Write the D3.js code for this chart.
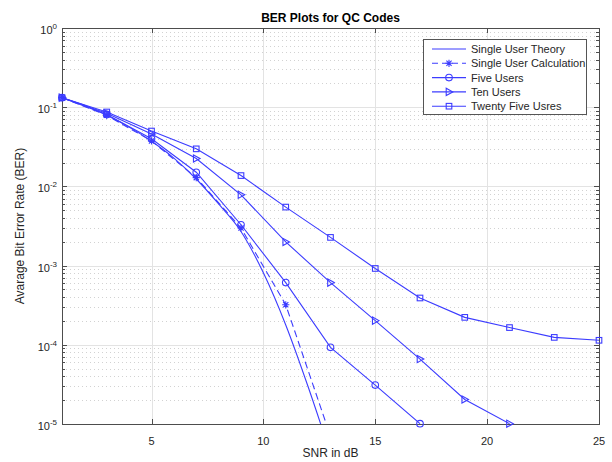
<!DOCTYPE html>
<html>
<head>
<meta charset="utf-8">
<script src="https://cdn.jsdelivr.net/npm/d3@7"></script>
<style>
  body { margin: 0; background: #fff; }
  svg { display: block; font-family: "Liberation Sans", Arial, Helvetica, sans-serif; }
</style>
</head>
<body>
<div id="chart"></div>
<script>
// chart data
const snrTheory = [1, 2, 3, 4, 5, 6, 7, 8, 9, 10, 11, 12, 13]
const berTheory = [0.132, 0.106, 0.079, 0.056, 0.0372, 0.0228, 0.0124, 0.0060, 0.0027, 0.00081, 0.000178, 0.0000295, 0.0000042]

const snrCalc = [1, 3, 5, 7, 9, 11, 13]
const berCalc = [0.132, 0.079, 0.0375, 0.0129, 0.00298, 0.00032, 0.000007]

const snrFive = [1, 3, 5, 7, 9, 11, 13, 15, 17]
const berFive = [0.132, 0.081, 0.040, 0.0151, 0.00328, 0.00061, 0.000093, 0.000031, 0.0000101]

const snrTen = [1, 3, 5, 7, 9, 11, 13, 15, 17, 19, 21]
const berTen = [0.132, 0.084, 0.046, 0.0225, 0.00783, 0.00199, 0.00061, 0.000202, 0.000066, 0.0000204, 0.0000101]

const snrTwentyFive = [1, 3, 5, 7, 9, 11, 13, 15, 17, 19, 21, 23, 25]
const berTwentyFive = [0.132, 0.087, 0.050, 0.0298, 0.0137, 0.00548, 0.00227, 0.00092, 0.00039, 0.000222, 0.000165, 0.000124, 0.000114]

const legendNames = ["Single User Theory", "Single User Calculation", "Five Users", "Ten Users", "Twenty Five Usres"]
const xTicks = [5, 10, 15, 20, 25]
const yDecades = [-5, -4, -3, -2, -1, 0]

const width = 612
const height = 462
const plotL = 62, plotR = 599, plotT = 28, plotB = 424
const lineColor = "#3c3cff"
const axisColor = "#4d4d4d"
const textColor = "#262626"

const series = [
  {name: legendNames[0], x: snrTheory, y: berTheory, marker: null, dash: null},
  {name: legendNames[1], x: snrCalc, y: berCalc, marker: "star", dash: "7,4"},
  {name: legendNames[2], x: snrFive, y: berFive, marker: "circle", dash: null},
  {name: legendNames[3], x: snrTen, y: berTen, marker: "triangle", dash: null},
  {name: legendNames[4], x: snrTwentyFive, y: berTwentyFive, marker: "square", dash: null}
]

const x = d3.scaleLinear().domain([1, 25]).range([plotL, plotR])
const y = d3.scaleLog().domain([1e-5, 1]).range([plotB, plotT])

const svg = d3.select("#chart").append("svg")
  .attr("width", width)
  .attr("height", height)

svg.append("rect").attr("width", width).attr("height", height).attr("fill", "#fff")

svg.append("defs").append("clipPath").attr("id", "plotclip")
  .append("rect")
  .attr("x", plotL).attr("y", plotT)
  .attr("width", plotR - plotL).attr("height", plotB - plotT)

// minor grid (y only, dotted)
const minorVals = []
yDecades.slice(0, -1).forEach(e => {
  for (let k = 2; k <= 9; k++) minorVals.push(k * Math.pow(10, e))
})
svg.append("g").selectAll("line")
  .data(minorVals)
  .enter().append("line")
  .attr("x1", plotL).attr("x2", plotR)
  .attr("y1", d => Math.round(y(d)) + 0.5).attr("y2", d => Math.round(y(d)) + 0.5)
  .attr("stroke", "#d2d2d2")
  .attr("stroke-dasharray", "1,3")

// major grid
svg.append("g").selectAll("line")
  .data(yDecades.slice(1, -1))
  .enter().append("line")
  .attr("x1", plotL).attr("x2", plotR)
  .attr("y1", d => Math.round(y(Math.pow(10, d))) + 0.5)
  .attr("y2", d => Math.round(y(Math.pow(10, d))) + 0.5)
  .attr("stroke", "#e3e3e3")
svg.append("g").selectAll("line")
  .data(xTicks.slice(0, -1))
  .enter().append("line")
  .attr("x1", d => Math.round(x(d)) + 0.5).attr("x2", d => Math.round(x(d)) + 0.5)
  .attr("y1", plotT).attr("y2", plotB)
  .attr("stroke", "#e3e3e3")

// box
svg.append("rect")
  .attr("x", plotL + 0.5).attr("y", plotT + 0.5)
  .attr("width", plotR - plotL).attr("height", plotB - plotT)
  .attr("fill", "none")
  .attr("stroke", axisColor)

// ticks inside the box
const ticks = svg.append("g").attr("stroke", axisColor)
xTicks.forEach(t => {
  const px = Math.round(x(t)) + 0.5
  ticks.append("line").attr("x1", px).attr("x2", px).attr("y1", plotB).attr("y2", plotB - 5)
  ticks.append("line").attr("x1", px).attr("x2", px).attr("y1", plotT).attr("y2", plotT + 5)
})
yDecades.forEach(e => {
  const py = Math.round(y(Math.pow(10, e))) + 0.5
  ticks.append("line").attr("x1", plotL).attr("x2", plotL + 5).attr("y1", py).attr("y2", py)
  ticks.append("line").attr("x1", plotR).attr("x2", plotR - 5).attr("y1", py).attr("y2", py)
})
minorVals.forEach(v => {
  const py = Math.round(y(v)) + 0.5
  ticks.append("line").attr("x1", plotL).attr("x2", plotL + 3).attr("y1", py).attr("y2", py)
  ticks.append("line").attr("x1", plotR).attr("x2", plotR - 3).attr("y1", py).attr("y2", py)
})

// tick labels
svg.append("g").selectAll("text")
  .data(xTicks)
  .enter().append("text")
  .attr("x", d => x(d))
  .attr("y", plotB + 21)
  .attr("text-anchor", "middle")
  .attr("font-size", 11)
  .attr("fill", textColor)
  .text(d => d)

const yl = svg.append("g").selectAll("text")
  .data(yDecades)
  .enter().append("text")
  .attr("x", plotL - 5)
  .attr("y", d => y(Math.pow(10, d)) + 6)
  .attr("text-anchor", "end")
  .attr("font-size", 11)
  .attr("fill", textColor)
yl.append("tspan").text("10")
yl.append("tspan").attr("dy", -5).attr("font-size", 8).text(d => d)

// titles
svg.append("text")
  .attr("x", (plotL + plotR) / 2).attr("y", 22)
  .attr("text-anchor", "middle")
  .attr("font-size", 12).attr("font-weight", "bold")
  .attr("fill", "#000")
  .text("BER Plots for QC Codes")
svg.append("text")
  .attr("x", (plotL + plotR) / 2).attr("y", 457)
  .attr("text-anchor", "middle")
  .attr("font-size", 12)
  .attr("fill", textColor)
  .text("SNR in dB")
svg.append("text")
  .attr("transform", "translate(24," + ((plotT + plotB) / 2) + ") rotate(-90)")
  .attr("text-anchor", "middle")
  .attr("font-size", 12)
  .attr("fill", textColor)
  .text("Avarage Bit Error Rate (BER)")

// marker drawing
function drawMarker(g, type, cx, cy) {
  if (type == "circle") {
    g.append("circle").attr("cx", cx).attr("cy", cy).attr("r", 3.3)
      .attr("fill", "none").attr("stroke", lineColor)
  } else if (type == "square") {
    g.append("rect").attr("x", cx - 2.8).attr("y", cy - 2.8).attr("width", 5.6).attr("height", 5.6)
      .attr("fill", "none").attr("stroke", lineColor)
  } else if (type == "triangle") {
    g.append("path")
      .attr("d", "M" + (cx + 3.8) + "," + cy + "L" + (cx - 2.8) + "," + (cy - 3.6) + "L" + (cx - 2.8) + "," + (cy + 3.6) + "Z")
      .attr("fill", "none").attr("stroke", lineColor)
  } else if (type == "star") {
    const r = 3.6, q = 2.6
    g.append("path")
      .attr("d", "M" + cx + "," + (cy - r) + "V" + (cy + r) +
        "M" + (cx - r) + "," + cy + "H" + (cx + r) +
        "M" + (cx - q) + "," + (cy - q) + "L" + (cx + q) + "," + (cy + q) +
        "M" + (cx - q) + "," + (cy + q) + "L" + (cx + q) + "," + (cy - q))
      .attr("stroke", lineColor).attr("fill", "none")
  }
}

// lines
const plot = svg.append("g")
series.forEach(s => {
  const pts = s.x.map((v, i) => [v, s.y[i]])
  const line = d3.line()
    .x(d => x(d[0]))
    .y(d => y(d[1]))
  if (s.marker == null) line.curve(d3.curveMonotoneX)
  plot.append("path")
    .datum(pts)
    .attr("d", line)
    .attr("clip-path", "url(#plotclip)")
    .attr("fill", "none")
    .attr("stroke", lineColor)
    .attr("stroke-width", 1.1)
    .attr("stroke-dasharray", s.dash)
  if (s.marker) {
    const mg = plot.append("g").attr("stroke-width", 1.1)
    pts.filter(d => d[1] >= 0.999e-5).forEach(d => drawMarker(mg, s.marker, x(d[0]), y(d[1])))
  }
})

// legend
const lg = svg.append("g")
lg.append("rect")
  .attr("x", 423.5).attr("y", 39.5)
  .attr("width", 163).attr("height", 75)
  .attr("fill", "#fff")
  .attr("stroke", "#555")
series.forEach((s, i) => {
  const ly = 49 + i * 14.3
  lg.append("line")
    .attr("x1", 432).attr("x2", 466)
    .attr("y1", ly).attr("y2", ly)
    .attr("stroke", lineColor)
    .attr("stroke-width", 1.1)
    .attr("stroke-dasharray", s.dash ? "6,4" : null)
  if (s.marker) {
    const mg = lg.append("g").attr("stroke-width", 1.1)
    drawMarker(mg, s.marker, 449, ly)
  }
  lg.append("text")
    .attr("x", 471).attr("y", ly + 4)
    .attr("font-size", 11)
    .attr("fill", textColor)
    .text(s.name)
})
</script>
</body>
</html>
